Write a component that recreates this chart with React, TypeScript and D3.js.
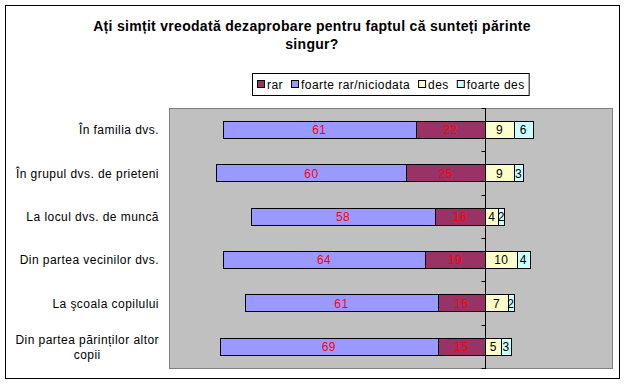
import React, { useEffect, useRef } from "react";
import * as d3 from "d3";

const categories: string[][] = [
    ["În familia dvs."],
    ["În grupul dvs. de prieteni"],
    ["La locul dvs. de muncă"],
    ["Din partea vecinilor dvs."],
    ["La şcoala copilului"],
    ["Din partea părinților altor", "copii"],
];
const rar = [22, 25, 16, 19, 15, 15];
const foarteRar = [61, 60, 58, 64, 61, 69];
const des = [9, 9, 4, 10, 7, 5];
const foarteDes = [6, 3, 2, 4, 2, 3];

const legendItems = [
    { name: "rar", color: "#993366" },
    { name: "foarte rar/niciodata", color: "#9999FF" },
    { name: "des", color: "#FFFFCC" },
    { name: "foarte des", color: "#CCFFFF" },
];

const FONT = "'Liberation Sans', Arial, sans-serif";
const SPACING = "0.45px";

const App: React.FC = () => {
    const svgRef = useRef<SVGSVGElement | null>(null);

    useEffect(() => {
        if (!svgRef.current) return;
        const svg = d3.select(svgRef.current);
        svg.selectAll("*").remove();

        const plot = { left: 169, right: 612, top: 108, bottom: 368 };

        // outer frame
        svg.append("rect")
            .attr("x", 5.5).attr("y", 5.5)
            .attr("width", 614).attr("height", 373)
            .attr("fill", "white").attr("stroke", "black");

        // title
        const title = svg.append("text")
            .attr("text-anchor", "middle")
            .style("font-family", FONT)
            .style("font-size", "14px")
            .style("letter-spacing", "0.3px")
            .style("font-weight", "bold");
        title.append("tspan").attr("x", 312).attr("y", 31)
            .text("Ați simțit vreodată dezaprobare pentru faptul că sunteți părinte");
        title.append("tspan").attr("x", 312).attr("y", 49).text("singur?");

        // plot area
        svg.append("rect")
            .attr("x", plot.left + 0.5).attr("y", plot.top + 0.5)
            .attr("width", plot.right - plot.left).attr("height", plot.bottom - plot.top)
            .attr("fill", "#C0C0C0").attr("stroke", "#808080");

        const x = d3.scaleLinear().domain([-100, 40]).range([plot.left, plot.right]);
        const y = d3.scaleBand<number>()
            .domain(d3.range(categories.length))
            .range([plot.top, plot.bottom])
            .paddingInner(0.6).paddingOuter(0.3);

        const rows = categories.map((c, i) => ({
            i,
            segs: [
                { x0: -rar[i], x1: 0, v: rar[i], color: "#993366", text: "red" },
                { x0: -rar[i] - foarteRar[i], x1: -rar[i], v: foarteRar[i], color: "#9999FF", text: "red" },
                { x0: 0, x1: des[i], v: des[i], color: "#FFFFCC", text: "black" },
                { x0: des[i], x1: des[i] + foarteDes[i], v: foarteDes[i], color: "#CCFFFF", text: "black" },
            ],
        }));

        const g = svg.append("g");
        rows.forEach(r => {
            const segs = g.selectAll(null).data(r.segs).enter();
            segs.append("rect")
                .attr("x", d => Math.round(x(d.x0)) + 0.5)
                .attr("y", Math.round(y(r.i)!) + 0.5)
                .attr("width", d => Math.round(x(d.x1)) - Math.round(x(d.x0)))
                .attr("height", Math.round(y.bandwidth()))
                .attr("fill", d => d.color)
                .attr("stroke", "black");
            segs.append("text")
                .attr("x", d => (x(d.x0) + x(d.x1)) / 2)
                .attr("y", y(r.i)! + y.bandwidth() / 2 + 4.5)
                .attr("text-anchor", "middle")
                .attr("fill", d => d.text)
                .style("font-family", FONT)
                .style("font-size", "12px")
                .style("letter-spacing", SPACING)
                .text(d => d.v);
        });

        // zero axis with ticks at category boundaries
        const x0 = Math.round(x(0)) + 0.5;
        svg.append("line")
            .attr("x1", x0).attr("x2", x0)
            .attr("y1", plot.top).attr("y2", plot.bottom + 1)
            .attr("stroke", "black");
        const step = (plot.bottom - plot.top) / categories.length;
        svg.selectAll("line.tick")
            .data(d3.range(categories.length + 1))
            .enter().append("line")
            .attr("class", "tick")
            .attr("x1", x0 - 4).attr("x2", x0)
            .attr("y1", d => Math.round(plot.top + d * step) + 0.5)
            .attr("y2", d => Math.round(plot.top + d * step) + 0.5)
            .attr("stroke", "black");

        // category labels
        categories.forEach((lines, i) => {
            const cy = y(i)! + y.bandwidth() / 2;
            const t = svg.append("text")
                .style("font-family", FONT)
                .style("font-size", "12px")
                .style("letter-spacing", SPACING)
                .attr("fill", "black");
            if (lines.length === 1) {
                t.attr("text-anchor", "end").attr("x", 159).attr("y", cy + 4.5).text(lines[0]);
            } else {
                t.attr("text-anchor", "middle");
                const tmp = svg.append("text").style("font-family", FONT).style("font-size", "12px")
                    .style("letter-spacing", SPACING).text(lines[0]);
                const w = (tmp.node() as SVGTextElement).getComputedTextLength();
                tmp.remove();
                const cx = 159 - w / 2;
                lines.forEach((l, k) => {
                    t.append("tspan").attr("x", cx).attr("y", cy - 2 + k * 15).text(l);
                });
            }
        });

        // legend
        const lg = svg.append("g");
        const box = lg.append("rect")
            .attr("x", 252.5).attr("y", 73.5)
            .attr("height", 22)
            .attr("fill", "white").attr("stroke", "black");
        let lx = 257;
        legendItems.forEach((item, k) => {
            lg.append("rect")
                .attr("x", lx + 0.5).attr("y", 80.5)
                .attr("width", 7).attr("height", 7)
                .attr("fill", item.color).attr("stroke", "black");
            const t = lg.append("text")
                .attr("x", lx + 10).attr("y", 88.5)
                .style("font-family", FONT)
                .style("font-size", "12px")
                .style("letter-spacing", SPACING)
                .text(item.name);
            const w = (t.node() as SVGTextElement).getComputedTextLength();
            lx += 10 + w + (k === legendItems.length - 1 ? 4 : 8);
        });
        box.attr("width", lx - 252);
    }, []);

    return (
        <svg ref={svgRef} width={627} height={385}
            style={{ position: "absolute", left: 0, top: 0, background: "white" }} />
    );
};

export default App;
